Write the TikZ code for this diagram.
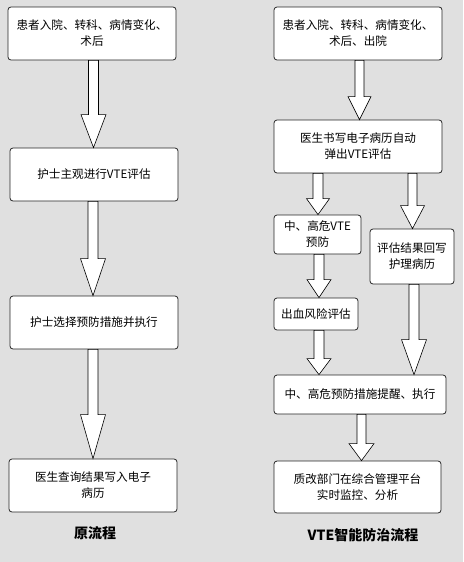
\documentclass[tikz,border=0pt]{standalone}
\usepackage{fontspec}
\setmainfont{Noto Sans CJK SC}
\usetikzlibrary{calc}
\definecolor{bg}{RGB}{224,224,224}
\tikzset{
  box/.style={draw=black!85, line width=0.8pt, fill=white, rounded corners=3pt,
    align=center, inner sep=2pt, font=\fontsize{11.6}{16}\selectfont},
  blk/.style={draw=black, line width=0.6pt, fill=white, line join=miter},
  ttl/.style={font=\fontsize{14}{16}\selectfont\bfseries}
}
\newcommand\barr[6]{%
  \draw[blk] let \p1=(#1.south), \p2=(#2.north) in
   (#3pt-#4pt,\y1) -- (#3pt+#4pt,\y1) -- (#3pt+#4pt,\y2+#6pt) -- (#3pt+#5pt,\y2+#6pt)
   -- (#3pt,\y2) -- (#3pt-#5pt,\y2+#6pt) -- (#3pt-#4pt,\y2+#6pt) -- cycle;}
\begin{document}
\begin{tikzpicture}[x=1pt,y=1pt]
\fill[bg] (0,0) rectangle (463,-562);
\useasboundingbox (0,0) rectangle (463,-562);
% left column
\node[box, minimum width=168pt, minimum height=53pt] (L1) at (92,-33.5) {患者入院、转科、病情变化、\\术后};
\node[box, minimum width=168pt, minimum height=53pt] (L2) at (94,-174.5) {护士主观进行VTE评估};
\node[box, minimum width=168pt, minimum height=53pt] (L3) at (94,-322.5) {护士选择预防措施并执行};
\node[box, minimum width=168pt, minimum height=53pt] (L4) at (93,-485.5) {医生查询结果写入电子\\病历};
\node[ttl] (T1) at (95,-533) {原流程};
% right column
\node[box, minimum width=168pt, minimum height=53pt] (R1) at (358,-33.5) {患者入院、转科、病情变化、\\术后、出院};
\node[box, minimum width=168pt, minimum height=53pt] (R2) at (358,-146.5) {医生书写电子病历自动\\弹出VTE评估};
\node[box, minimum width=87pt, minimum height=39pt] (R3) at (317.5,-234.5) {中、高危VTE\\预防};
\node[box, minimum width=84pt, minimum height=55pt] (R4) at (412,-256.5) {评估结果回写\\护理病历};
\node[box, minimum width=84pt, minimum height=32pt] (R5) at (316,-314) {出血风险评估};
\node[box, minimum width=172pt, minimum height=39pt] (R6) at (360,-394.5) {中、高危预防措施提醒、执行};
\node[box, minimum width=167pt, minimum height=52pt] (R7) at (357.5,-487) {质改部门在综合管理平台\\实时监控、分析};
\node[ttl] (T2) at (363,-535) {VTE智能防治流程};
% arrows left
\barr{L1}{L2}{93.5}{5}{12.5}{33}
\barr{L2}{L3}{93}{5}{12.5}{37}
\barr{L3}{L4}{93}{5}{12.5}{44}
% arrows right
\barr{R1}{R2}{359.5}{4.5}{11.5}{23}
\barr{R2}{R3}{318}{5}{11.5}{16}
\barr{R2}{R4}{412.5}{4.5}{12}{23}
\barr{R3}{R5}{319}{5}{12}{18}
\barr{R5}{R6}{319}{5}{12}{16}
\barr{R4}{R6}{414}{5}{12.5}{35}
\barr{R6}{R7}{361.5}{4.5}{12.5}{17}
\end{tikzpicture}
\end{document}
